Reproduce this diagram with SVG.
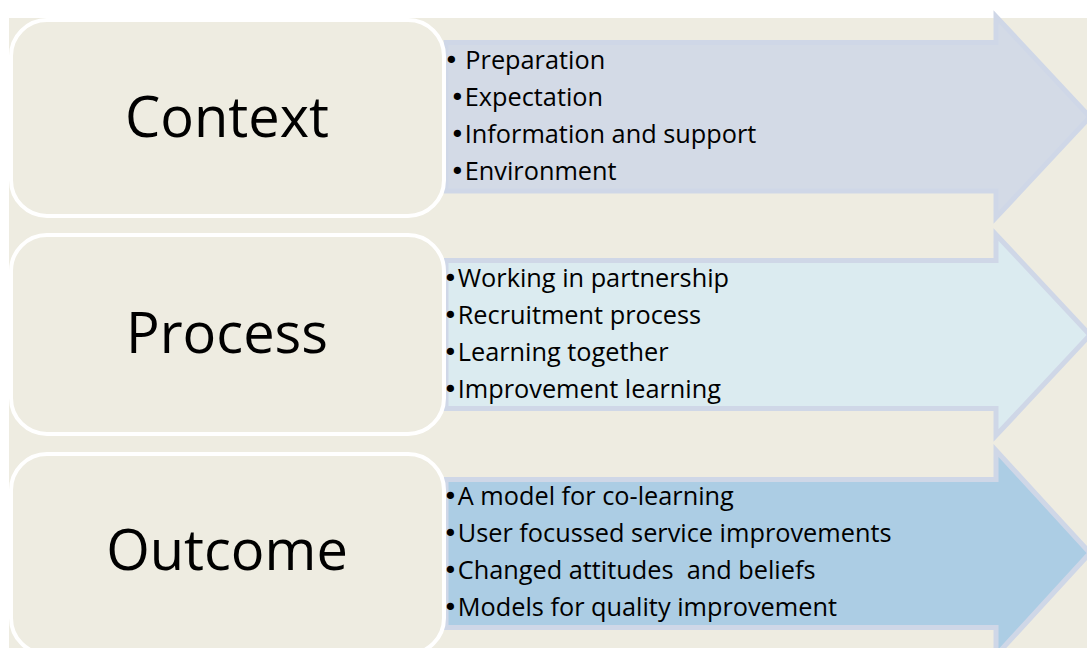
<svg xmlns="http://www.w3.org/2000/svg" width="1087" height="648" viewBox="0 0 1087 648">
<style>
.bg{fill:#EEECE1}
.box{fill:#EEECE1;stroke:#FFFFFF;stroke-width:4}
.arrow{stroke:#CFD7E7;stroke-width:5;stroke-linejoin:miter}
.title{font-family:"Open Sans","Liberation Sans",sans-serif;font-size:56px;fill:#000;text-anchor:middle}
.item{font-family:"Open Sans","Liberation Sans",sans-serif;font-size:25.3px;fill:#000;white-space:pre}
.b{font-family:"DejaVu Sans",sans-serif;font-size:25px}
</style>
<rect x="0" y="0" width="1087" height="648" fill="#FFFFFF"/>
<rect class="bg" x="9" y="18" width="1078" height="630"/>
<g id="connectors">
<path id="arrow-context" class="arrow" fill="#D3DAE6" d="M446,42.5 H996 V16.5 L1090,117 L996,217.5 V191 H446 Z"/>
<path id="arrow-process" class="arrow" fill="#DBEBF0" d="M446,260.5 H996 V234.5 L1090,335 L996,435.5 V408.5 H446 Z"/>
<path id="arrow-outcome" class="arrow" fill="#ACCDE4" d="M446,479.5 H996 V450.5 L1090,553 L996,655.5 V627.5 H446 Z"/>
</g>
<g id="context">
<rect class="box" x="11" y="20" width="433" height="196" rx="36"/>
<text class="title" x="227" y="137">Context</text>
<text class="item" x="444" y="69" xml:space="preserve"><tspan class="b">•</tspan> Preparation</text>
<text class="item" x="450" y="106"><tspan class="b">•</tspan>Expectation</text>
<text class="item" x="450" y="143"><tspan class="b">•</tspan>Information and support</text>
<text class="item" x="450" y="180"><tspan class="b">•</tspan>Environment</text>
</g>
<g id="process">
<rect class="box" x="11" y="235" width="433" height="199" rx="36"/>
<text class="title" x="227" y="353">Process</text>
<text class="item" x="443" y="287"><tspan class="b">•</tspan>Working in partnership</text>
<text class="item" x="443" y="324"><tspan class="b">•</tspan>Recruitment process</text>
<text class="item" x="443" y="361"><tspan class="b">•</tspan>Learning together</text>
<text class="item" x="443" y="398"><tspan class="b">•</tspan>Improvement learning</text>
</g>
<g id="outcome">
<rect class="box" x="11" y="454" width="433" height="200" rx="36"/>
<text class="title" x="227" y="570">Outcome</text>
<text class="item" x="443" y="505"><tspan class="b">•</tspan>A model for co-learning</text>
<text class="item" x="443" y="542"><tspan class="b">•</tspan>User focussed service improvements</text>
<text class="item" x="443" y="579" xml:space="preserve"><tspan class="b">•</tspan>Changed attitudes  and beliefs</text>
<text class="item" x="443" y="616"><tspan class="b">•</tspan>Models for quality improvement</text>
</g>
</svg>
